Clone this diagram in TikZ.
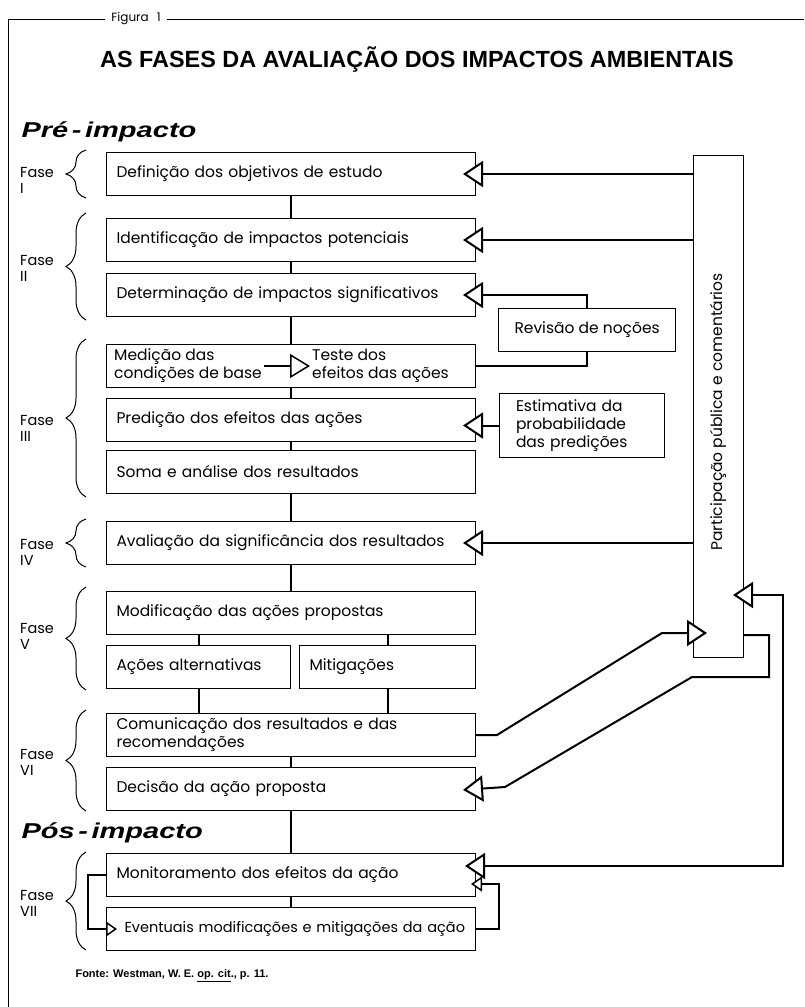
\documentclass[tikz,border=0pt]{standalone}
\usepackage{fontspec}
\setmainfont{Poppins}
\newfontfamily\titulofont{Liberation Sans}
\newfontfamily\fasefont[FakeStretch=1.35]{Liberation Sans}
\newcommand\caixafont{\fontsize{15.5}{18}\selectfont}
\usetikzlibrary{arrows.meta,decorations.pathreplacing}

\tikzset{
  caixa/.style={draw, line width=1pt, anchor=north west, minimum height=43pt,
    text width=#1, inner xsep=10pt, align=left, font=\caixafont},
  caixa/.default=349pt,
  lado/.style={draw, line width=1pt, anchor=north west, minimum width=165pt,
    minimum height=43pt, inner xsep=16pt, font=\caixafont},
  liga/.style={line width=2pt},
  seta/.style={line width=2pt, -{Triangle[length=20pt,width=26pt,fill=white]},
    shorten >=-13pt},
  setas/.style={line width=2pt,
    {Triangle[length=20pt,width=26pt,fill=white]}-{Triangle[length=20pt,width=26pt,fill=white]},
    shorten >=-11pt, shorten <=-11pt},
  setinha/.style={line width=1.5pt, -{Triangle[length=11pt,width=15pt,fill=white]}},
  chave/.style={decorate, decoration={brace, amplitude=20pt}, line width=1pt},
  fase/.style={anchor=west, align=left, inner sep=0pt, font=\fontsize{14.5}{16}\selectfont},
}

\begin{document}
\begin{tikzpicture}[x=1pt, y=-1pt]
\useasboundingbox (0,0) rectangle (804,1007);
% moldura e titulos
\node[font=\fontsize{12}{14}\selectfont, inner xsep=6pt] (fig) at (136,19) {Figura\hspace{8pt}1};
\draw[line width=1pt] (fig.west) -- (8,19) -- (8,1007);
\draw[line width=1pt] (fig.east) -- (804,19);
\node[font=\titulofont\bfseries\fontsize{23.4}{28}\selectfont] (titulo) at (417,60) {AS FASES DA AVALIAÇÃO DOS IMPACTOS AMBIENTAIS};
\node[anchor=west, font=\fasefont\bfseries\itshape\fontsize{21.5}{24}\selectfont] (prei) at (18,132) {Pré\,-\,impacto};
\node[anchor=west, font=\fasefont\bfseries\itshape\fontsize{21.5}{24}\selectfont] (posi) at (18,833) {Pós\,-\,impacto};

% caixas principais
\node[caixa] (def) at (106,152) {Definição dos objetivos de estudo};
\node[caixa] (ide) at (106,218) {Identificação de impactos potenciais};
\node[caixa] (det) at (106,273) {Determinação de impactos significativos};
\node[caixa] (med) at (106,344) {};
\node[anchor=west, align=left, inner sep=2pt, font=\caixafont] (medA) at (112,366) {Medição das\\condições de base};
\node[anchor=west, align=left, inner sep=2pt, font=\caixafont] (medB) at (310,366) {Teste dos\\efeitos das ações};
\node[caixa] (pre) at (106,398) {Predição dos efeitos das ações};
\node[caixa] (som) at (106,450) {Soma e análise dos resultados};
\node[caixa] (ava) at (106,521) {Avaliação da significância dos resultados};
\node[caixa] (mod) at (106,591) {Modificação das ações propostas};
\node[caixa=164pt] (alt) at (106,645) {Ações alternativas};
\node[caixa=156pt] (mit) at (299,645) {Mitigações};
\node[caixa] (com) at (106,713) {Comunicação dos resultados e das\\recomendações};
\node[caixa] (dec) at (106,767) {Decisão da ação proposta};
\node[caixa] (mon) at (106,853) {Monitoramento dos efeitos da ação};
\node[caixa, font=\fontsize{14.5}{17}\selectfont] (eve) at (106,907) {\hspace*{8pt}Eventuais modificações e mitigações da ação};

% caixas laterais
\node[lado, align=center] (rev) at (498,308) {Revisão de noções};
\node[lado, minimum height=64pt, text width=132pt, align=left] (est) at (499,393) {Estimativa da\\probabilidade\\das predições};
\node[draw, line width=1pt, anchor=north west, minimum width=50pt, minimum height=502pt] (par) at (693,155) {};
\node[rotate=90, font=\caixafont] (parT) at (718,412) {Participação pública e comentários};

% ligacoes
\draw[liga] (def) -- (ide);
\draw[liga] (ide) -- (det);
\draw[liga] (det) -- (med);
\draw[liga] (med) -- (pre);
\draw[liga] (pre) -- (som);
\draw[liga] (som) -- (ava);
\draw[liga] (ava) -- (mod);
\draw[liga] (alt) -- (alt |- mod.south);
\draw[liga] (mit) -- (mit |- mod.south);
\draw[liga] (alt) -- (alt |- com.north);
\draw[liga] (mit) -- (mit |- com.north);
\draw[liga] (com) -- (dec);
\draw[liga] (dec) -- (mon);
\draw[liga] (mon) -- (eve);
\draw[line width=1.5pt, -{Triangle[length=20pt,width=24pt,fill=white]}] (medA) -- (medB);

% retornos
\draw[seta] (par.west |- def.east) -- (def.east);
\draw[seta] (par.west |- ide.east) -- (ide.east);
\draw[seta] (par.west |- ava.east) -- (ava.east);
\draw[liga] (med.east) -| (rev.south);
\draw[seta] (rev.north) |- (det.east);
\draw[seta] (est.west) -- (est.west -| pre.east);
\draw[seta, shorten >=-14pt] (com.east) -- ++(21,0) -- (662,633) -- (par.west |- 0,633);
\draw[seta] (par.east |- 0,635) -- (769,635) -- (769,677) -- (692,677) -- (505,787) -- (dec.east);
\draw[setas] (mon.east |- 0,866) -- (783,866) -- (783,595) -- (par.east |- 0,595);
\draw[setinha, shorten >=-11pt] (mon.west) -- (88,0 |- mon.west) |- (eve.west);
\draw[setinha, shorten >=-5pt] (eve.east) -- (499,0 |- eve.east) |- (mon.east |- 0,884);

% fases
\draw[chave] (86,198) -- (86,150);
\node[fase] (f1) at (20,180) {Fase\\I};
\draw[chave] (86,320) -- (86,213);
\node[fase] (f2) at (20,268) {Fase\\II};
\draw[chave] (86,497) -- (86,339);
\node[fase] (f3) at (20,428) {Fase\\III};
\draw[chave] (86,567) -- (86,519);
\node[fase] (f4) at (20,552) {Fase\\IV};
\draw[chave] (86,690) -- (86,587);
\node[fase] (f5) at (20,636) {Fase\\V};
\draw[chave] (86,811) -- (86,710);
\node[fase] (f6) at (20,762) {Fase\\VI};
\draw[chave] (86,950) -- (86,852);
\node[fase] (f7) at (20,903) {Fase\\VII};

% fonte
\node[anchor=west, font=\titulofont\bfseries\fontsize{11}{13}\selectfont] (fonte) at (72,976) {Fonte: Westman, W. E. \underline{op. cit}., p. 11.};
\end{tikzpicture}
\end{document}
